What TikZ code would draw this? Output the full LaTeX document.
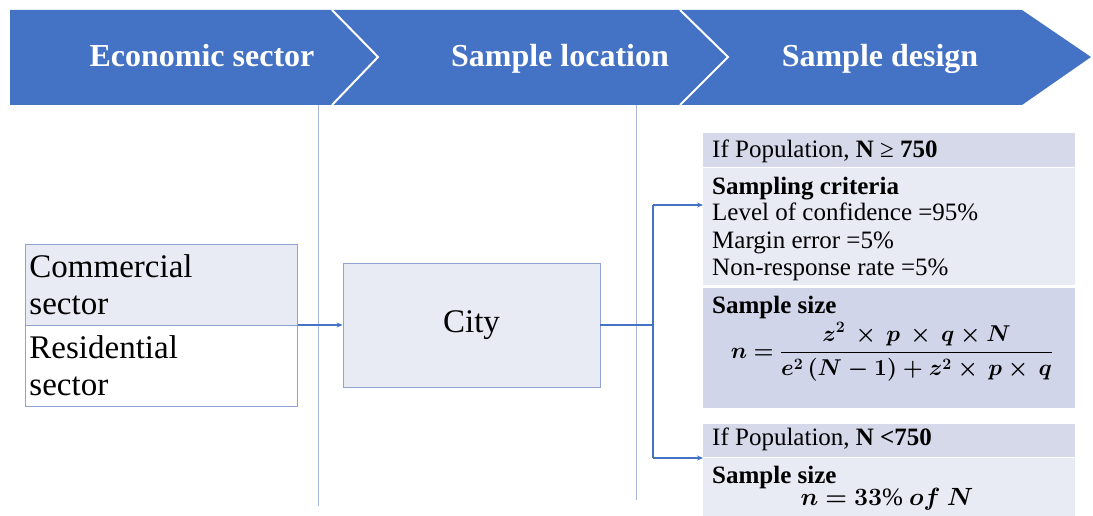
\documentclass[tikz,border=0pt]{standalone}
\usepackage{amsmath,bm,graphicx}
\usepackage{fontspec}
\setmainfont{Liberation Serif}
\usetikzlibrary{arrows.meta}
\definecolor{banner}{HTML}{4472C4}
\definecolor{lightcell}{HTML}{E8EAF4}
\definecolor{hdrcell}{HTML}{D6D9EA}
\definecolor{sizecell}{HTML}{D0D5EA}
\definecolor{boxline}{HTML}{8FA2D2}
\definecolor{guide}{HTML}{A8B8DC}
\tikzset{
  bannertext/.style={text=white, font=\fontsize{32}{36}\selectfont\bfseries, inner sep=0pt, anchor=base},
  cell/.style={draw=boxline, line width=0.9pt, minimum width=272pt, minimum height=81pt, text width=264pt, align=left, inner sep=0pt, font=\fontsize{33}{37}\selectfont},
  citybox/.style={draw=boxline, line width=0.9pt, fill=lightcell, minimum width=257pt, minimum height=124pt, font=\fontsize{33}{37}\selectfont},
  panel/.style={inner sep=0pt, minimum width=372pt, anchor=north west},
  ptext/.style={anchor=base west, inner sep=0pt, font=\fontsize{25}{27}\selectfont},
  guideline/.style={draw=guide, line width=0.8pt},
  conn/.style={draw=banner, line width=1.2pt},
  arr/.style={conn, -{Stealth[length=6pt,width=5pt]}},
}
\begin{document}
\begin{tikzpicture}[x=1pt,y=-1pt]
\useasboundingbox (0,0) rectangle (1093,516);
\fill[white] (0,0) rectangle (1093,516);
% banner
\fill[banner] (10,10) -- (1022,10) -- (1091,57) -- (1022,105) -- (10,105) -- cycle;
\draw[white, line width=2pt] (332,10) -- (378,57) -- (332,105);
\draw[white, line width=2pt] (680,10) -- (728,57) -- (680,105);
\node[bannertext] (t1) at (202,67) {Economic sector};
\node[bannertext] (t2) at (560,67) {Sample location};
\node[bannertext] (t3) at (880,67) {Sample design};
% guide lines
\coordinate (g1a) at (318,105); \coordinate (g1b) at (318,506);
\coordinate (g2a) at (636,105); \coordinate (g2b) at (636,500);
\draw[guideline] (g1a) -- (g1b);
\draw[guideline] (g2a) -- (g2b);
% left cells
\node[cell, fill=lightcell, anchor=north west] (com) at (25,244) {Commercial\\sector};
\node[cell, fill=white, anchor=north west] (res) at (25,325) {Residential\\sector};
% city
\node[citybox] (city) at (471.5,325) {City};
% right panels
\node[panel, fill=hdrcell, minimum height=34pt] (p1) at (703,133) {};
\node[panel, fill=lightcell, minimum height=117pt] (p2) at (703,168) {};
\node[panel, fill=sizecell, minimum height=120pt] (p3) at (703,288) {};
\node[panel, fill=hdrcell, minimum height=33pt] (p4) at (703,424) {};
\node[panel, fill=lightcell, minimum height=60pt] (p5) at (703,458) {};
% texts
\node[ptext] (a1) at (712,158) {If Population, \textbf{N} ≥ \textbf{750}};
\node[ptext] (a2) at (712,194) {\textbf{Sampling criteria}};
\node[ptext] (a3) at (712,221) {Level of confidence =95\%};
\node[ptext] (a4) at (712,248) {Margin error =5\%};
\node[ptext] (a5) at (712,275) {Non-response rate =5\%};
\node[ptext] (a6) at (712,313) {\textbf{Sample size}};
\node[inner sep=0pt, font=\fontsize{25}{27}\selectfont] (f1) at (892,352) {\scalebox{0.92}{$\bm{n = \dfrac{z^2\,\times\,p\,\times\,q \times N}{e^2\,(N-1) + z^2 \times\,p \times\,q}}$}};
\node[ptext] (b1) at (712,445) {If Population, \textbf{N} \textbf{<750}};
\node[ptext] (b2) at (712,483) {\textbf{Sample size}};
\node[anchor=base, inner sep=0pt, font=\fontsize{25}{27}\selectfont] (b3) at (887,505) {$\bm{n = 33\%\ of\ N}$};
% connectors
\coordinate (split) at (297.5,325);
\draw[arr] (split) -- (city.west);
\coordinate (br) at (653,325);
\coordinate (brt) at (653,205);
\coordinate (brb) at (653,458);
\draw[conn] (city.east) -- (br);
\draw[conn] (brt) -- (brb);
\draw[arr] (brt) -- (p2.west |- brt);
\draw[arr] (brb) -- (p5.north west);
\end{tikzpicture}
\end{document}
